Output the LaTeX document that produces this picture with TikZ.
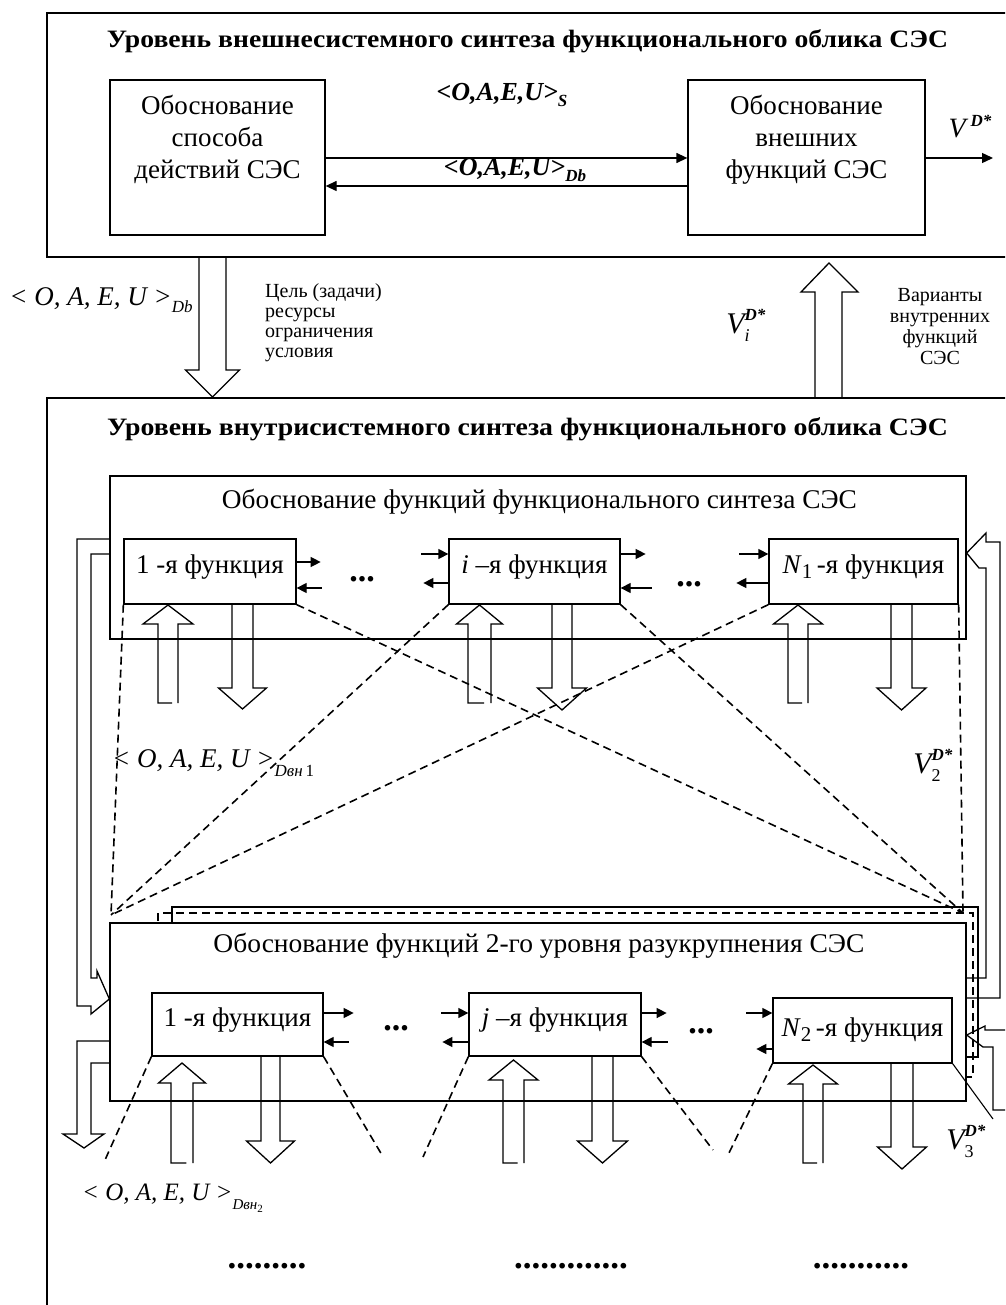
\documentclass[tikz,border=0pt]{standalone}
\usepackage{fontspec}
\setmainfont{Liberation Serif}
\usepackage{graphicx}
\usetikzlibrary{arrows.meta,calc}
\newcommand{\fsz}[2]{\fontsize{#1}{#2}\selectfont}
\newcommand{\hdown}[6]{% xl xr ytop ybase halfhead ytip
  \draw[hol] (#1,#3) -- (#1,#4) -- ({(#1+#2)/2-#5},#4) -- ({(#1+#2)/2},#6) -- ({(#1+#2)/2+#5},#4) -- (#2,#4) -- (#2,#3);}
\newcommand{\hup}[6]{% xl xr ybot ybase halfhead ytip
  \draw[hol] ({#1+0.7*(#2-#1)},#3) -- (#1,#3) -- (#1,#4) -- ({(#1+#2)/2-#5},#4) -- ({(#1+#2)/2},#6) -- ({(#1+#2)/2+#5},#4) -- (#2,#4) -- (#2,#3);}
\tikzset{
  frame/.style={line width=2.6pt},
  box/.style={draw, line width=1.3pt, inner sep=0pt},
  funbox/.style={box, minimum height=65pt, text height=18pt, text depth=14pt, font=\fsz{27}{30}},
  arr/.style={line width=1.3pt, -{Triangle[length=11pt,width=10pt]}},
  sarr/.style={line width=1.3pt, -{Triangle[length=10pt,width=10pt]}},
  dsh/.style={line width=1.6pt, dash pattern=on 8pt off 5pt},
  hol/.style={line width=1.3pt, line join=miter},
  lbl/.style={inner sep=0pt},
}
\begin{document}
\begin{tikzpicture}[x=1pt,y=-1pt]
\useasboundingbox (0,0) rectangle (1005,1305);
\clip (0,0) rectangle (1005,1305);
\fill[white] (0,0) rectangle (1005,1305);

% ---------- outer frames
\draw[frame] (1030,13) -- (47,13) -- (47,257) -- (1030,257);
\draw[frame] (47,1330) -- (47,398) -- (1030,398);

% ---------- top level
\node[lbl, font=\bfseries\fsz{25}{28}] (t1) at (527.5,41)
  {\resizebox{841pt}{\height}{Уровень внешнесистемного синтеза функционального облика СЭС}};
\node[box, minimum width=215pt, minimum height=155pt] (L) at (217.5,157.5) {};
\node[lbl, anchor=north, align=center, font=\fsz{27}{32}] (Lt) at (217.5,95) {Обоснование\\способа\\действий СЭС};
\node[box, minimum width=237pt, minimum height=155pt] (R) at (806.5,157.5) {};
\node[lbl, anchor=north, align=center, font=\fsz{27}{32}] (Rt) at (806.5,95) {Обоснование\\внешних\\функций СЭС};
\draw[arr] (L.east |- 0,158) -- (R.west |- 0,158);
\draw[arr] (R.west |- 0,186) -- (L.east |- 0,186);
\coordinate (outV) at (993,158);
\draw[arr] (R.east |- 0,158) -- (outV);
\node[lbl, font=\bfseries\itshape\fsz{26}{26}] (lS) at (502,95) {<O,A,E,U>\raisebox{-6pt}{\fsz{17}{17}S}};
\node[lbl, font=\bfseries\itshape\fsz{26}{26}] (lDbt) at (515,170) {<O,A,E,U>\raisebox{-6pt}{\fsz{17}{17}Db}};
\node[lbl, font=\itshape\fsz{28}{28}] (vD) at (970,127) {V\,\raisebox{11pt}{\fsz{17}{17}\bfseries D*}};

% ---------- between levels
\hdown{199}{226}{257}{370}{27}{397}
\draw[hol] (815,398) -- (815,292) -- (801,292) -- (829,263) -- (858,292) -- (842,292) -- (842,398);
\node[lbl, font=\itshape\fsz{27}{27}] (lDb) at (101,300) {< O, A, E, U >\raisebox{-7pt}{\fsz{17}{17}Db}};
\node[lbl, anchor=north west, align=left, font=\fsz{20}{20}] (goal) at (265,283)
  {Цель (задачи)\\ресурсы\\ограничения\\условия};
\node[lbl, font=\itshape\fsz{30}{30}] (vi) at (738,325)
  {V\makebox[0pt][l]{\raisebox{13pt}{\fsz{17}{17}\bfseries D*}}\raisebox{-8pt}{\fsz{18}{18}i}\hspace{14pt}};
\node[lbl, anchor=north, align=center, font=\fsz{20}{21}] (var) at (940,288)
  {Варианты\\внутренних\\функций\\СЭС};

% ---------- second level
\node[lbl, font=\bfseries\fsz{25}{28}] (t2) at (527.5,429)
  {\resizebox{841pt}{\height}{Уровень внутрисистемного синтеза функционального облика СЭС}};

% block A
\node[box, minimum width=856pt, minimum height=163pt] (A) at (538,557.5) {};
\node[lbl, font=\fsz{27}{30}] (At) at (539.5,502)
  {\resizebox{635pt}{\height}{Обоснование функций функционального синтеза СЭС}};
\node[funbox, minimum width=172pt] (a1) at (210,571.5) {1 -я функция};
\node[funbox, minimum width=171pt] (ai) at (534.5,571.5) {\textit{i} –я функция};
\node[funbox, minimum width=189pt] (aN) at (863.5,571.5) {\textit{N}\raisebox{-5pt}{\fsz{21}{21}1}\,-я функция\hspace{8pt}};

\draw[sarr] (a1.east |- 0,562) -- ++(24,0);
\draw[sarr] (a1.east |- 0,588) ++(25,0) -- (a1.east |- 0,588);
\draw[sarr] (ai.west |- 0,554) ++(-27,0) -- (ai.west |- 0,554);
\draw[sarr] (ai.west |- 0,583) -- ++(-25,0);
\draw[sarr] (ai.east |- 0,554) -- ++(25,0);
\draw[sarr] (ai.east |- 0,588) ++(31,0) -- (ai.east |- 0,588);
\draw[sarr] (aN.west |- 0,554) ++(-29,0) -- (aN.west |- 0,554);
\draw[sarr] (aN.west |- 0,583) -- ++(-32,0);
\node[lbl, anchor=base, font=\bfseries\fsz{34}{34}] (dA1) at (362,581) {...};
\node[lbl, anchor=base, font=\bfseries\fsz{34}{34}] (dA2) at (689,586) {...};

\hup{158}{178}{703}{624}{25}{605}
\hdown{232}{253}{604}{688}{24}{709}
\hup{468}{491}{703}{624}{23}{605}
\hdown{552}{572}{604}{688}{24.5}{710}
\hup{788}{808}{703}{624}{24.5}{605}
\hdown{891}{912}{604}{688}{24.5}{710}

% block B with stacked copies
\coordinate (pL) at (111,915);
\coordinate (pR) at (963,913);
\draw[line width=1.2pt] (172,1057) -- (172,907) -- (978,907) -- (978,1057) -- (966,1057);
\draw[dsh] (158,1077) -- (158,913) -- (973,913) -- (973,1077) -- (966,1077);
\node[box, fill=white, minimum width=856pt, minimum height=178pt] (B) at (538,1012) {};
\node[lbl, font=\fsz{27}{30}] (Bt) at (539,946)
  {\resizebox{651pt}{\height}{Обоснование функций 2-го уровня разукрупнения СЭС}};
\node[funbox, minimum width=171pt, minimum height=63pt] (b1) at (237.5,1024.5) {1 -я функция};
\node[funbox, minimum width=172pt, minimum height=63pt] (bj) at (555,1024.5) {\textit{j} –я функция};
\node[funbox, minimum width=179pt, text depth=6pt] (bN) at (862.5,1030.5) {\textit{N}\raisebox{-5pt}{\fsz{21}{21}2}\,-я функция};

\draw[sarr] (b1.east |- 0,1013) -- ++(30,0);
\draw[sarr] (b1.east |- 0,1042) ++(25,0) -- (b1.east |- 0,1042);
\draw[sarr] (bj.west |- 0,1013) ++(-27,0) -- (bj.west |- 0,1013);
\draw[sarr] (bj.west |- 0,1042) -- ++(-26,0);
\draw[sarr] (bj.east |- 0,1013) -- ++(25,0);
\draw[sarr] (bj.east |- 0,1042) ++(26,0) -- (bj.east |- 0,1042);
\draw[sarr] (bN.west |- 0,1013) ++(-26,0) -- (bN.west |- 0,1013);
\draw[sarr] (bN.west |- 0,1049) -- ++(-16,0);
\node[lbl, anchor=base, font=\bfseries\fsz{34}{34}] (dB1) at (396,1030) {...};
\node[lbl, anchor=base, font=\bfseries\fsz{34}{34}] (dB2) at (701,1033) {...};

\hup{171}{193}{1163}{1083}{23.5}{1063}
\hdown{261}{280}{1056}{1141}{24}{1163}
\hup{503}{524}{1163}{1080}{24.5}{1060}
\hdown{592}{613}{1056}{1141}{25}{1163}
\hup{803}{823}{1163}{1084}{24.5}{1065}
\hdown{891}{913}{1063}{1147}{24.5}{1169}

% dashed links between the two blocks
\draw[dsh] (a1.south west) -- (pL);
\draw[dsh] (ai.south west) -- (pL);
\draw[dsh] (aN.south west) -- (pL);
\draw[dsh] (a1.south east) -- (pR);
\draw[dsh] (ai.south east) -- (pR);
\draw[dsh] (aN.south east) -- (pR);

% dashed links below block B
\draw[dsh] (b1.south west) -- (105,1160);
\draw[dsh] (b1.south east) -- (382,1155);
\draw[dsh] (bj.south west) -- (423,1157);
\draw[dsh] (bj.south east) -- (713,1150);
\draw[dsh] (bN.south west) -- (728,1155);
\draw[line width=1.1pt] (bN.south east) -- (993,1119);

% left feedback arrows
\draw[hol] (A.west |- 0,539) -- (77,539) -- (77,1006) -- (91,1006) -- (91,1014) -- (B.west |- 0,999)
  -- (97,971) -- (97,978) -- (91,978) -- (91,554) -- (A.west |- 0,554);
\draw[hol] (B.west |- 0,1041) -- (77,1041) -- (77,1134) -- (63,1134) -- (84,1148) -- (104,1134)
  -- (91,1134) -- (91,1063) -- (B.west |- 0,1063);

% right feedback arrows
\draw[hol] (B.east |- 0,998) -- (1000,998) -- (1000,542) -- (986,542) -- (986,533) -- (A.east |- 0,553)
  -- (979,568) -- (986,568) -- (986,978) -- (B.east |- 0,978);
\draw[hol] (1010,1030) -- (985,1030) -- (985,1026) -- (B.east |- 0,1035) -- (983,1047) -- (993,1047)
  -- (993,1110) -- (1010,1110);

% labels
\node[lbl, anchor=west, font=\itshape\fsz{27}{27}] (lD1) at (112,763)
  {< O, A, E, U >\raisebox{-9pt}{\fsz{17}{17}Dвн\,\upshape 1}};
\node[lbl, font=\itshape\fsz{30}{30}] (v2) at (927,765)
  {V\makebox[0pt][l]{\raisebox{13pt}{\fsz{17}{17}\bfseries D*}}\raisebox{-8pt}{\fsz{18}{18}\upshape 2}\hspace{14pt}};
\node[lbl, font=\itshape\fsz{30}{30}] (v3) at (960,1141)
  {V\makebox[0pt][l]{\raisebox{13pt}{\fsz{17}{17}\bfseries D*}}\raisebox{-8pt}{\fsz{18}{18}\upshape 3}\hspace{14pt}};
\node[lbl, anchor=west, font=\itshape\fsz{25}{25}] (lD2) at (82,1198)
  {< O, A, E, U >\raisebox{-9pt}{\fsz{15}{15}Dвн\raisebox{-3pt}{\fsz{11}{11}\upshape 2}}};

\node[lbl, anchor=base, font=\bfseries\fsz{35}{35}] (e1) at (267,1268) {.........};
\node[lbl, anchor=base, font=\bfseries\fsz{35}{35}] (e2) at (571,1268) {.............};
\node[lbl, anchor=base, font=\bfseries\fsz{35}{35}] (e3) at (861,1268) {...........};
\end{tikzpicture}
\end{document}
